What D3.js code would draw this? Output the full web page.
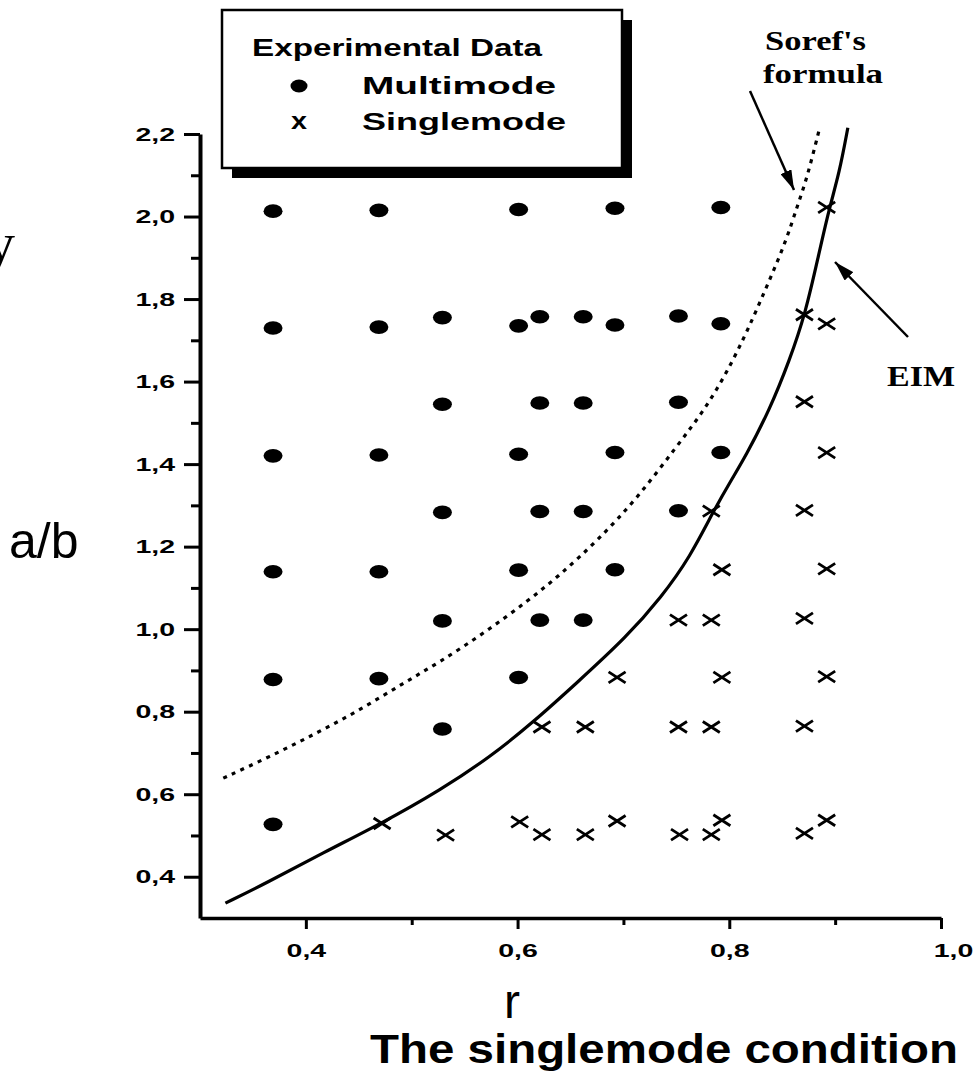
<!DOCTYPE html>
<html>
<head>
<meta charset="utf-8">
<script src="https://cdn.jsdelivr.net/npm/d3@7"></script>
<style>
  body { margin: 0; background: #fff; }
  svg { display: block; }
</style>
</head>
<body>
<svg></svg>
<script>
// Experimental points: [r, a/b]
const multimode = [
  [0.369, 2.013], [0.469, 2.015], [0.601, 2.017], [0.692, 2.02], [0.792, 2.022],
  [0.369, 1.73], [0.469, 1.732], [0.529, 1.755], [0.601, 1.735], [0.621, 1.757],
  [0.662, 1.757], [0.692, 1.737], [0.752, 1.759], [0.792, 1.74],
  [0.529, 1.545], [0.621, 1.548], [0.662, 1.548], [0.752, 1.55],
  [0.369, 1.42], [0.469, 1.422], [0.601, 1.424], [0.692, 1.428], [0.792, 1.428],
  [0.529, 1.283], [0.621, 1.285], [0.662, 1.285], [0.752, 1.287],
  [0.369, 1.139], [0.469, 1.139], [0.601, 1.143], [0.692, 1.144],
  [0.529, 1.02], [0.621, 1.022], [0.662, 1.022],
  [0.369, 0.878], [0.469, 0.88], [0.601, 0.883],
  [0.529, 0.758],
  [0.369, 0.527]
];

const singlemode = [
  [0.892, 2.022],
  [0.871, 1.762], [0.892, 1.74],
  [0.871, 1.551],
  [0.892, 1.428],
  [0.783, 1.286], [0.871, 1.288],
  [0.793, 1.144], [0.892, 1.146],
  [0.752, 1.022], [0.783, 1.022], [0.871, 1.026],
  [0.694, 0.883], [0.793, 0.883], [0.892, 0.885],
  [0.623, 0.763], [0.664, 0.763], [0.752, 0.763], [0.783, 0.763], [0.871, 0.765],
  [0.472, 0.529], [0.532, 0.501], [0.602, 0.533], [0.623, 0.502], [0.664, 0.502],
  [0.694, 0.535], [0.753, 0.502], [0.783, 0.502], [0.793, 0.537], [0.871, 0.505], [0.892, 0.537]
];

// Theory curves: [r, a/b]
const eimCurve = [
  [0.324, 0.336], [0.363, 0.385], [0.416, 0.458], [0.472, 0.53], [0.527, 0.61],
  [0.574, 0.69], [0.615, 0.775], [0.656, 0.87], [0.703, 0.981], [0.736, 1.078],
  [0.763, 1.175], [0.785, 1.286], [0.802, 1.362], [0.815, 1.417], [0.838, 1.531],
  [0.857, 1.652], [0.872, 1.766], [0.884, 1.902], [0.894, 2.016], [0.904, 2.106],
  [0.912, 2.215]
];

const sorefCurve = [
  [0.322, 0.639], [0.366, 0.691], [0.41, 0.748], [0.451, 0.804], [0.492, 0.869],
  [0.527, 0.921], [0.568, 0.99], [0.609, 1.067], [0.64, 1.131], [0.676, 1.216],
  [0.713, 1.317], [0.75, 1.442], [0.779, 1.539], [0.804, 1.652], [0.823, 1.757],
  [0.838, 1.846], [0.854, 1.943], [0.864, 2.024], [0.873, 2.089], [0.885, 2.211]
];

const xMajor = [0.4, 0.6, 0.8, 1.0];
const xMinor = [0.5, 0.7, 0.9];
const yMajor = [0.4, 0.6, 0.8, 1.0, 1.2, 1.4, 1.6, 1.8, 2.0, 2.2];
const yMinor = [0.5, 0.7, 0.9, 1.1, 1.3, 1.5, 1.7, 1.9, 2.1];

const width = 976;
const height = 1071;

const svg = d3.select("svg").attr("width", width).attr("height", height);

const x = d3.scaleLinear().domain([0.3, 1.0]).range([200, 941]);
const y = d3.scaleLinear().domain([0.3, 2.2]).range([918, 134]);

// comma decimal labels like the original
const fmt = (d) => d3.format(".1f")(d).replace(".", ",");

// the scanned figure has wide glyphs, so texts get an explicit length
function fitText(sel, w) {
  sel.attr("textLength", w).attr("lengthAdjust", "spacingAndGlyphs");
}

const sans = "'Liberation Sans', Arial, sans-serif";
const serif = "'Liberation Serif', 'Times New Roman', serif";
const labelStretch = 1.5;

function styleAxis(g, domainWidth) {
  g.select(".domain").attr("stroke-width", domainWidth).attr("stroke", "#000");
  g.selectAll(".tick line").attr("stroke-width", 3).attr("stroke", "#000");
  g.selectAll(".tick text")
    .attr("fill", "#000")
    .style("font-family", sans)
    .style("font-weight", "bold")
    .style("font-size", "19px");
}

//////////////////////////////////////////////////////////////////
// Axes
const yMinorAxis = svg.append("g")
  .attr("transform", `translate(${x(0.3)},0)`)
  .call(d3.axisLeft(y).tickValues(yMinor).tickSize(9).tickSizeOuter(0).tickFormat(""));
yMinorAxis.select(".domain").remove();
yMinorAxis.selectAll(".tick line").attr("stroke-width", 3);

const yAxis = svg.append("g")
  .attr("class", "y-axis")
  .attr("transform", `translate(${x(0.3)},0)`)
  .call(d3.axisLeft(y).tickValues(yMajor).tickSize(16).tickSizeOuter(0).tickPadding(9).tickFormat(fmt));
styleAxis(yAxis, 4);
// widen the glyphs, keeping the right edge where the axis put it
yAxis.selectAll(".tick text")
  .attr("x", -25 / labelStretch)
  .attr("transform", `scale(${labelStretch},1)`);

const xMinorAxis = svg.append("g")
  .attr("transform", `translate(0,${y(0.3)})`)
  .call(d3.axisBottom(x).tickValues(xMinor).tickSize(7).tickSizeOuter(0).tickFormat(""));
xMinorAxis.select(".domain").remove();
xMinorAxis.selectAll(".tick line").attr("stroke-width", 3);

const xAxis = svg.append("g")
  .attr("class", "x-axis")
  .attr("transform", `translate(0,${y(0.3)})`)
  .call(d3.axisBottom(x).tickValues(xMajor).tickSize(11).tickSizeOuter(0).tickPadding(15).tickFormat(fmt));
styleAxis(xAxis, 3.5);
xAxis.selectAll(".tick text")
  .attr("transform", `scale(${labelStretch},1)`)
  // the last label sits a little right of its tick in the original
  .attr("x", (d) => (d === 1.0 ? 12 / labelStretch : 0));

//////////////////////////////////////////////////////////////////
// Curves
const line = d3.line()
  .x((d) => x(d[0]))
  .y((d) => y(d[1]))
  .curve(d3.curveBasis);

svg.append("path")
  .datum(sorefCurve)
  .attr("fill", "none")
  .attr("stroke", "#000")
  .attr("stroke-width", 3.2)
  .attr("stroke-dasharray", "4,5.5")
  .attr("d", line);

svg.append("path")
  .datum(eimCurve)
  .attr("fill", "none")
  .attr("stroke", "#000")
  .attr("stroke-width", 3.2)
  .attr("d", line);

//////////////////////////////////////////////////////////////////
// Points
svg.append("g")
  .selectAll("ellipse")
  .data(multimode)
  .join("ellipse")
  .attr("cx", (d) => x(d[0]))
  .attr("cy", (d) => y(d[1]))
  .attr("rx", 9.5)
  .attr("ry", 6.8)
  .attr("fill", "#000");

const cross = (cx, cy, w, h) =>
  `M${cx - w},${cy - h}L${cx + w},${cy + h}M${cx - w},${cy + h}L${cx + w},${cy - h}`;

svg.append("g")
  .selectAll("path")
  .data(singlemode)
  .join("path")
  .attr("d", (d) => cross(x(d[0]), y(d[1]), 8.5, 5.5))
  .attr("fill", "none")
  .attr("stroke", "#000")
  .attr("stroke-width", 2.8);

//////////////////////////////////////////////////////////////////
// Legend box with drop shadow
const legend = svg.append("g");
legend.append("rect")
  .attr("x", 232).attr("y", 20).attr("width", 400).attr("height", 158)
  .attr("fill", "#000");
legend.append("rect")
  .attr("x", 222).attr("y", 10).attr("width", 400).attr("height", 158)
  .attr("fill", "#fff").attr("stroke", "#000").attr("stroke-width", 2.5);

function legendText(tx, ty, label, w, anchor) {
  legend.append("text")
    .attr("x", tx).attr("y", ty)
    .attr("text-anchor", anchor || "start")
    .style("font-family", sans).style("font-weight", "bold").style("font-size", "23px")
    .text(label)
    .call(fitText, w);
}

legendText(252, 56, "Experimental Data", 290);
legend.append("ellipse")
  .attr("cx", 299).attr("cy", 86).attr("rx", 8.5).attr("ry", 6.5).attr("fill", "#000");
legendText(362, 94, "Multimode", 194);
legendText(299, 129, "x", 16, "middle");
legendText(362, 130, "Singlemode", 204);

//////////////////////////////////////////////////////////////////
// Annotations
svg.append("text")
  .attr("x", 765).attr("y", 50)
  .style("font-family", serif).style("font-weight", "bold").style("font-size", "27px")
  .text("Soref's")
  .call(fitText, 101);
svg.append("text")
  .attr("x", 763).attr("y", 83)
  .style("font-family", serif).style("font-weight", "bold").style("font-size", "27px")
  .text("formula")
  .call(fitText, 120);
svg.append("text")
  .attr("x", 887).attr("y", 386)
  .style("font-family", serif).style("font-weight", "bold").style("font-size", "29px")
  .text("EIM")
  .call(fitText, 68);

const defs = svg.append("defs");
defs.append("marker")
  .attr("id", "head")
  .attr("viewBox", "0 0 20 12")
  .attr("refX", 20).attr("refY", 6)
  .attr("markerWidth", 20).attr("markerHeight", 12)
  .attr("markerUnits", "userSpaceOnUse")
  .attr("orient", "auto")
  .append("path")
  .attr("d", "M0,0L20,6L0,12Z")
  .attr("fill", "#000");

svg.append("line")
  .attr("x1", 750).attr("y1", 91).attr("x2", 794).attr("y2", 190)
  .attr("stroke", "#000").attr("stroke-width", 2.5)
  .attr("marker-end", "url(#head)");
svg.append("line")
  .attr("x1", 908).attr("y1", 337).attr("x2", 835).attr("y2", 262)
  .attr("stroke", "#000").attr("stroke-width", 2.5)
  .attr("marker-end", "url(#head)");

// Axis titles and slide text
svg.append("text")
  .attr("x", -14).attr("y", 262)
  .style("font-family", serif).style("font-size", "58px")
  .text("y");
svg.append("text")
  .attr("x", 9).attr("y", 558)
  .style("font-family", sans).style("font-size", "50px")
  .text("a/b");
svg.append("text")
  .attr("x", 512).attr("y", 1018).attr("text-anchor", "middle")
  .style("font-family", sans).style("font-size", "48px")
  .text("r");
svg.append("text")
  .attr("x", 370).attr("y", 1063)
  .style("font-family", sans).style("font-weight", "bold").style("font-size", "40px")
  .text("The singlemode condition")
  .call(fitText, 588);
</script>
</body>
</html>
